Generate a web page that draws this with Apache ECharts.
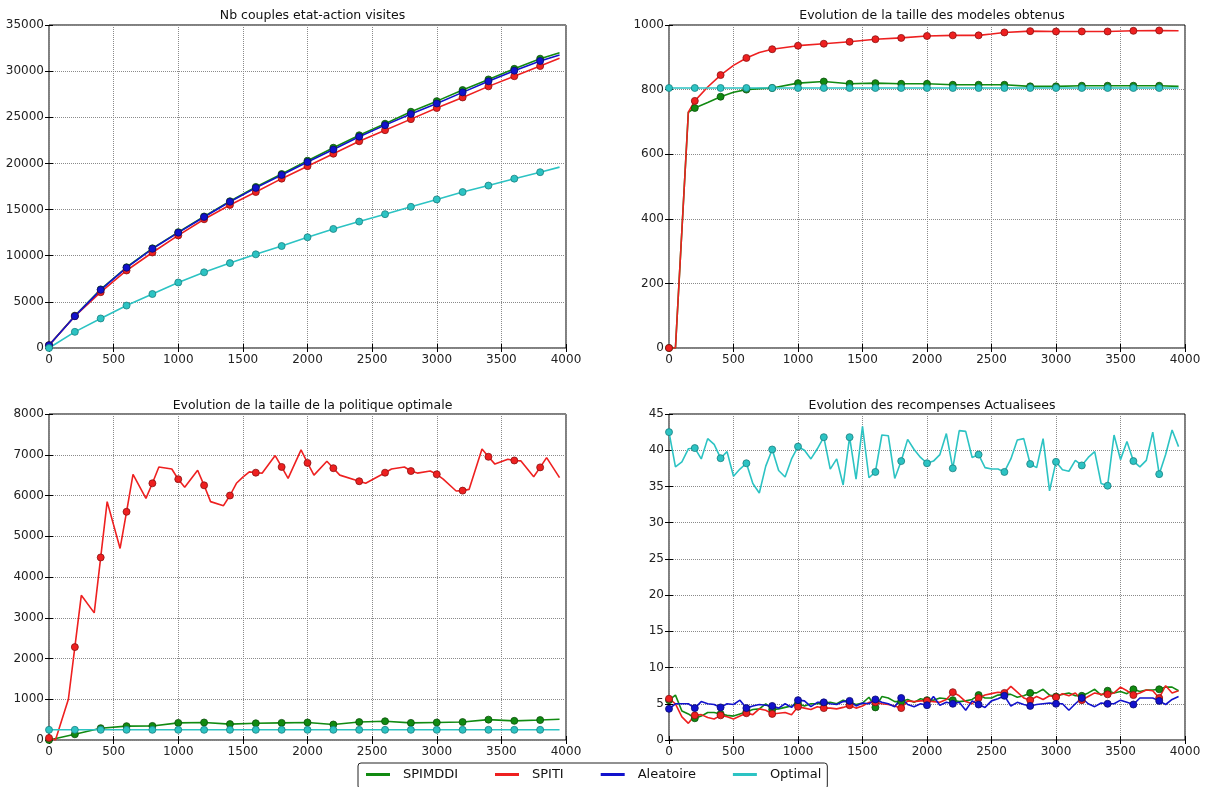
<!DOCTYPE html>
<html>
<head>
<meta charset="utf-8">
<script src="https://cdn.jsdelivr.net/npm/echarts@6/dist/echarts.min.js"></script>
<style>
  html, body { margin: 0; padding: 0; background: #fff; }
  #chart { width: 1208px; height: 787px; }
</style>
</head>
<body>
<div id="chart"></div>
<script>
/** noms des series */
var names = ['SPIMDDI', 'SPITI', 'Aleatoire', 'Optimal']
var titles = [
  'Nb couples etat-action visites',
  'Evolution de la taille des modeles obtenus',
  'Evolution de la taille de la politique optimale',
  'Evolution des recompenses Actualisees'
]

/** abscisses */
var x200 = [0, 200, 400, 600, 800, 1000, 1200, 1400, 1600, 1800, 2000, 2200, 2400, 2600, 2800, 3000, 3200, 3400, 3600, 3800, 3950]
var x50 = []
for (var k = 0; k <= 3950; k += 50) x50.push(k)

/** Nb couples etat-action visites */
var visGreen = [300, 3500, 6350, 8750, 10800, 12550, 14250, 15900, 17450, 18850, 20300, 21700, 23050, 24300, 25600, 26750, 27950, 29100, 30250, 31350, 32000]
var visRed = [300, 3450, 6050, 8400, 10350, 12200, 13950, 15500, 16900, 18350, 19700, 21050, 22400, 23600, 24800, 26000, 27150, 28350, 29450, 30550, 31400]
var visBlue = [300, 3450, 6300, 8700, 10750, 12500, 14200, 15850, 17350, 18750, 20150, 21500, 22900, 24150, 25350, 26500, 27700, 28900, 30050, 31100, 31750]
var visCyan = [0, 1750, 3200, 4600, 5850, 7100, 8200, 9200, 10150, 11050, 12000, 12900, 13700, 14500, 15300, 16100, 16900, 17600, 18350, 19050, 19600]

/** taille des modeles */
var modX = [0, 50, 150, 200, 300, 400, 500, 600, 700, 800, 1000, 1200, 1400, 1600, 1800, 2000, 2200, 2400, 2500, 2600, 2800, 3000, 3200, 3400, 3600, 3800, 3950]
var modRed = [0, 0, 730, 765, 808, 845, 875, 898, 915, 925, 936, 942, 948, 956, 960, 966, 968, 968, 972, 977, 981, 980, 980, 980, 982, 983, 982]
var modGreen = [0, 0, 730, 743, 760, 778, 792, 800, 803, 805, 820, 825, 818, 820, 818, 818, 815, 815, 815, 815, 810, 810, 812, 812, 812, 812, 810]
var modCyan = [805, 805, 805, 805, 805, 805, 805, 805, 805, 805, 805, 805, 805, 805, 805, 805, 805, 805, 805, 805, 805]

/** taille de la politique optimale */
var polRedX = [0, 50, 150, 200, 250, 350, 400, 450, 550, 600, 650, 750, 800, 850, 950, 1000, 1050, 1150, 1200, 1250,
  1350, 1400, 1450, 1500, 1550, 1600, 1650, 1750, 1800, 1850, 1950, 2000, 2050, 2150, 2200, 2250, 2400, 2450, 2600, 2650,
  2750, 2800, 2850, 2950, 3000, 3050, 3150, 3200, 3250, 3350, 3400, 3450, 3550, 3600, 3650, 3750, 3800, 3850, 3950]
var polRed = [50, 0, 1000, 2280, 3550, 3120, 4480, 5850, 4700, 5600, 6520, 5930, 6300, 6700, 6650, 6400, 6200, 6620, 6250, 5850,
  5750, 6000, 6300, 6450, 6580, 6560, 6550, 6980, 6700, 6420, 7120, 6800, 6500, 6840, 6670, 6500, 6350, 6300, 6560, 6650,
  6700, 6600, 6550, 6600, 6520, 6400, 6110, 6120, 6150, 7140, 6950, 6770, 6890, 6860, 6850, 6460, 6690, 6930, 6440]
var polGreen = [0, 140, 290, 340, 345, 420, 430, 390, 410, 420, 430, 380, 440, 460, 420, 430, 440, 500, 470, 490, 510]
var polCyan = [250, 250, 250, 250, 250, 250, 250, 250, 250, 250, 250, 250, 250, 250, 250, 250, 250, 250, 250, 250, 250]

/** recompenses actualisees (pas de 50) */
var recGreen = [5.5, 6.2, 4.0, 3.6, 3.0, 3.3, 3.8, 3.8, 3.6, 3.4,
  3.3, 3.6, 3.9, 4.2, 4.3, 5.0, 4.2, 4.3, 4.5, 4.7,
  5.0, 4.7, 5.0, 5.0, 5.1, 5.2, 5.0, 5.5, 5.2, 4.9,
  5.1, 5.9, 4.5, 6.0, 5.8, 5.3, 5.3, 5.6, 5.2, 5.7,
  5.5, 5.5, 5.8, 5.7, 5.5, 5.3, 5.4, 5.6, 6.2, 5.8,
  5.8, 6.2, 6.3, 6.3, 5.9, 6.1, 6.5, 6.5, 7.0, 6.2,
  6.0, 6.3, 6.5, 6.1, 6.1, 6.5, 7.0, 6.2, 6.8, 6.5,
  6.7, 6.4, 7.0, 6.7, 6.9, 6.9, 7.0, 7.3, 7.3, 6.8]
var recRed = [5.7, 5.0, 3.2, 2.3, 3.4, 3.5, 3.1, 2.9, 3.4, 3.2,
  2.9, 3.3, 3.7, 3.5, 4.3, 4.1, 3.6, 3.7, 3.8, 3.5,
  4.6, 4.4, 4.2, 4.6, 4.4, 4.4, 4.3, 4.5, 4.8, 4.4,
  4.7, 5.2, 5.2, 5.0, 4.9, 4.7, 4.4, 5.4, 5.3, 5.4,
  5.4, 5.3, 5.2, 5.6, 6.6, 6.1, 5.3, 5.0, 5.8, 6.2,
  6.4, 6.6, 6.5, 7.4, 6.6, 5.8, 5.5, 6.0, 5.6, 6.1,
  5.9, 6.4, 6.1, 6.5, 5.5, 6.0, 6.5, 6.3, 6.3, 6.5,
  7.3, 6.8, 6.2, 6.5, 6.9, 6.8, 5.8, 7.5, 6.5, 6.8]
var recBlue = [4.3, 5.0, 5.0, 5.0, 4.4, 5.3, 5.0, 4.9, 4.5, 5.0,
  4.9, 5.5, 4.4, 4.7, 4.9, 4.8, 4.7, 4.4, 5.0, 4.5,
  5.5, 5.4, 4.6, 5.2, 5.2, 5.0, 4.9, 5.3, 5.4, 4.7,
  5.1, 5.0, 5.6, 5.2, 5.0, 4.6, 5.8, 4.9, 4.6, 5.0,
  4.8, 6.0, 4.8, 5.2, 5.0, 5.2, 4.1, 5.4, 4.9, 4.5,
  5.4, 5.7, 6.1, 4.7, 5.2, 4.9, 4.7, 4.9, 5.0, 5.1,
  5.0, 5.0, 4.1, 5.0, 5.8, 5.0, 4.6, 5.1, 5.0, 5.0,
  5.5, 5.2, 4.9, 5.8, 5.8, 5.8, 5.4, 4.9, 5.6, 6.0]
var recCyan = [42.5, 37.7, 38.4, 40.2, 40.3, 38.8, 41.6, 40.8, 38.9, 39.8,
  36.4, 37.4, 38.2, 35.4, 34.1, 37.8, 40.1, 37.2, 36.3, 38.8,
  40.5, 40.0, 38.8, 40.2, 41.8, 37.4, 38.8, 35.2, 41.8, 36.0,
  43.3, 36.2, 37.0, 42.1, 42.0, 36.1, 38.5, 41.5, 40.1, 39.0,
  38.2, 38.5, 39.4, 42.3, 37.5, 42.7, 42.6, 39.0, 39.4, 37.6,
  37.4, 37.4, 37.0, 38.8, 41.4, 41.6, 38.1, 37.6, 41.6, 34.4,
  38.4, 37.3, 37.1, 38.6, 37.9, 39.0, 39.8, 35.4, 35.1, 42.1,
  38.7, 41.2, 38.5, 37.7, 38.6, 42.5, 36.7, 39.4, 42.8, 40.5]

/** echelles des ordonnees */
var yMax = [35000, 1000, 8000, 45]
var yStep = [5000, 200, 1000, 5]

/** styles */
var colors = { SPIMDDI: '#118a11', SPITI: '#ee2020', Aleatoire: '#1212cc', Optimal: '#2cc3c3' }
var edges = { SPIMDDI: '#0a4f0a', SPITI: '#8a1010', Aleatoire: '#0a0a70', Optimal: '#1a8080' }
var font = 'DejaVu Sans'
var grids = [
  { left: 49, top: 25, width: 517, height: 323 },
  { left: 669, top: 25, width: 516, height: 323 },
  { left: 49, top: 414, width: 517, height: 326 },
  { left: 669, top: 414, width: 516, height: 326 }
]

var pairs = function(xs, ys) {
  return xs.map(function(x, i) { return [x, ys[i]] })
}

var plain = function(v) { return String(v) }

var line = function(name, idx, xs, ys) {
  return {
    name: name,
    type: 'line',
    xAxisIndex: idx,
    yAxisIndex: idx,
    data: pairs(xs, ys),
    showSymbol: true,
    showAllSymbol: true,
    symbol: 'circle',
    symbolSize: function(v) { return v[0] % 200 === 0 ? 7 : 0 },
    lineStyle: { width: 1.6, color: colors[name] },
    itemStyle: { color: colors[name], borderColor: edges[name], borderWidth: 0.8 },
    emphasis: { disabled: true },
    animation: false
  }
}

var xAxes = [], yAxes = []
for (var i = 0; i < 4; i++) {
  xAxes.push({
    type: 'value', gridIndex: i, min: 0, max: 4000, interval: 500,
    axisLine: { show: false },
    axisTick: { inside: true, length: 4, lineStyle: { color: '#000' } },
    axisLabel: { fontFamily: font, fontSize: 12, color: '#222', margin: 6, formatter: plain },
    splitLine: { show: true, lineStyle: { type: 'dotted', color: '#8a8a8a' } }
  })
  yAxes.push({
    type: 'value', gridIndex: i, min: 0, max: yMax[i], interval: yStep[i],
    axisLine: { show: false },
    axisTick: { show: true, inside: true, length: 4, lineStyle: { color: '#000' } },
    axisLabel: { fontFamily: font, fontSize: 12, color: '#222', margin: 5, formatter: plain },
    splitLine: { show: true, lineStyle: { type: 'dotted', color: '#8a8a8a' } }
  })
}
// graduations miroir en haut et a droite
for (var i = 0; i < 4; i++) {
  xAxes.push({
    type: 'value', gridIndex: i, position: 'top', min: 0, max: 4000, interval: 500,
    axisLine: { show: false }, axisLabel: { show: false }, splitLine: { show: false },
    axisTick: { inside: true, length: 4, lineStyle: { color: '#000' } }
  })
  yAxes.push({
    type: 'value', gridIndex: i, position: 'right', min: 0, max: yMax[i], interval: yStep[i],
    axisLine: { show: false }, axisLabel: { show: false }, splitLine: { show: false },
    axisTick: { show: true, inside: true, length: 4, lineStyle: { color: '#000' } }
  })
}

var series = [
  line('SPIMDDI', 0, x200, visGreen),
  line('SPITI', 0, x200, visRed),
  line('Aleatoire', 0, x200, visBlue),
  line('Optimal', 0, x200, visCyan),

  line('SPIMDDI', 1, modX, modGreen),
  line('SPITI', 1, modX, modRed),
  line('Optimal', 1, x200, modCyan),

  line('SPIMDDI', 2, x200, polGreen),
  line('SPITI', 2, polRedX, polRed),
  line('Optimal', 2, x200, polCyan),

  line('SPIMDDI', 3, x50, recGreen),
  line('SPITI', 3, x50, recRed),
  line('Aleatoire', 3, x50, recBlue),
  line('Optimal', 3, x50, recCyan)
]

var option = {
  backgroundColor: '#fff',
  animation: false,
  title: titles.map(function(t, i) {
    return {
      text: t,
      left: grids[i].left + grids[i].width / 2,
      top: i < 2 ? 4 : 394,
      textAlign: 'center',
      textStyle: { fontFamily: font, fontSize: 12.5, fontWeight: 'normal', color: '#111' }
    }
  }),
  legend: {
    data: names.map(function(n) {
      return { name: n, itemStyle: { color: colors[n], borderWidth: 0 } }
    }),
    left: 358,
    top: 763,
    icon: 'rect',
    itemWidth: 24,
    itemHeight: 3,
    itemGap: 37,
    padding: [5, 6, 8, 8],
    borderColor: '#222',
    borderWidth: 1,
    borderRadius: 3,
    itemStyle: { borderWidth: 0 },
    textStyle: { fontFamily: font, fontSize: 13, color: '#111', padding: [0, 0, 0, 8] }
  },
  grid: grids.map(function(g) {
    return { left: g.left, top: g.top, width: g.width, height: g.height, show: true, borderColor: '#000', borderWidth: 1, backgroundColor: 'transparent' }
  }),
  xAxis: xAxes,
  yAxis: yAxes,
  series: series
}

var myChart = echarts.init(document.getElementById('chart'), null, { renderer: 'canvas' })
myChart.setOption(option)
</script>
</body>
</html>
